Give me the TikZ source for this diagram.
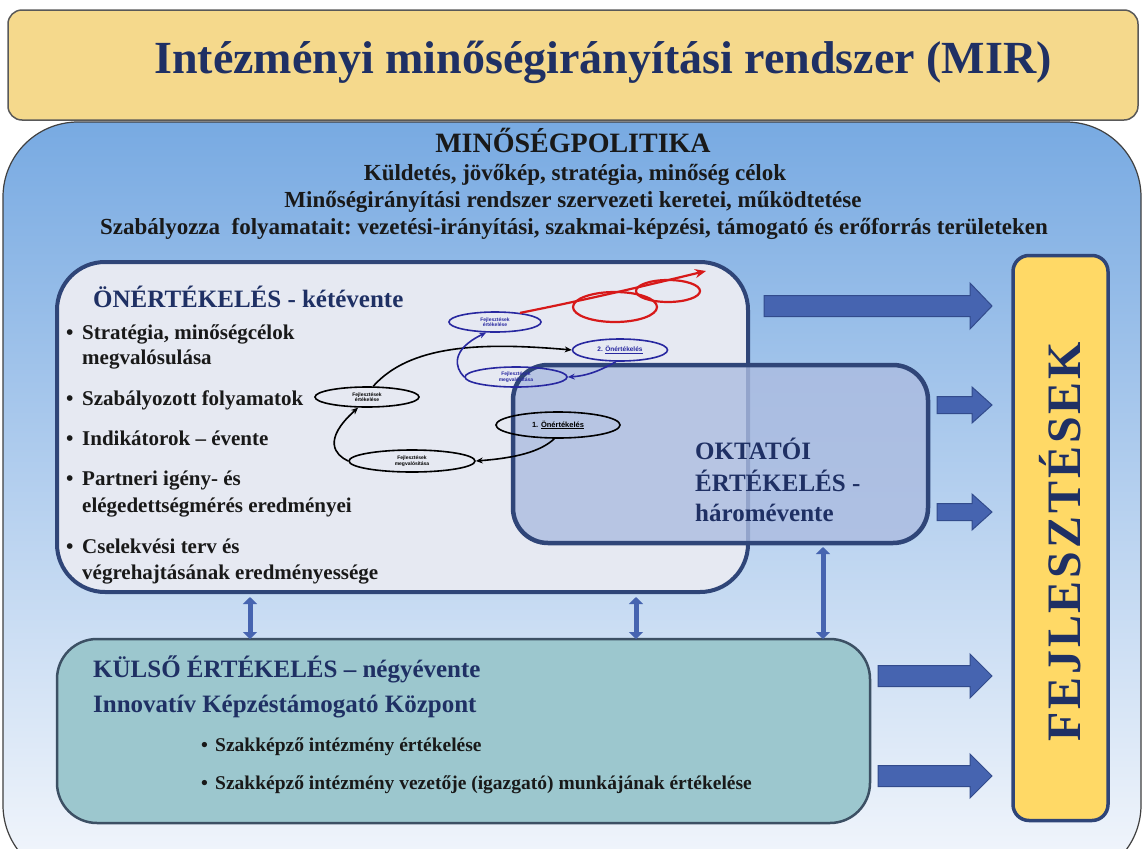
\documentclass[tikz,border=0pt]{standalone}
\usepackage{fontspec}
\setmainfont{Liberation Serif}
\newfontfamily\arialf{Liberation Sans}
\usetikzlibrary{shapes.geometric,arrows.meta}
\definecolor{navy}{RGB}{31,48,100}
\definecolor{boxline}{RGB}{47,69,120}
\definecolor{titlefill}{RGB}{245,217,140}
\definecolor{bgtop}{RGB}{120,170,226}
\definecolor{bgbot}{RGB}{244,247,252}
\definecolor{onfill}{RGB}{230,233,242}
\definecolor{oktfill}{RGB}{172,188,224}
\definecolor{kulfill}{RGB}{156,199,206}
\definecolor{kulline}{RGB}{60,80,100}
\definecolor{fejfill}{RGB}{255,217,102}
\definecolor{arrfill}{RGB}{70,100,176}
\definecolor{arrline}{RGB}{50,75,140}
\definecolor{ellblue}{RGB}{40,40,160}
\definecolor{redc}{RGB}{215,25,25}
\begin{document}
\begin{tikzpicture}[x=1pt,y=-1pt,
  titlebox/.style={draw=black!65, line width=1.5pt, fill=titlefill, rounded corners=14pt,
    minimum width=1130pt, minimum height=110pt, outer sep=0pt, inner sep=0pt},
  onbox/.style={draw=boxline, line width=4pt, fill=onfill, rounded corners=48pt,
    minimum width=691pt, minimum height=330pt, outer sep=0pt, inner sep=0pt},
  oktbox/.style={draw=boxline, line width=4.5pt, fill=oktfill, fill opacity=0.8, rounded corners=35pt,
    minimum width=415pt, minimum height=178pt, outer sep=0pt, inner sep=0pt},
  kulbox/.style={draw=kulline, line width=2.5pt, fill=kulfill, rounded corners=40pt,
    minimum width=813pt, minimum height=184pt, outer sep=0pt, inner sep=0pt},
  fejbox/.style={draw=boxline, line width=3.5pt, fill=fejfill, rounded corners=16pt,
    minimum width=95pt, minimum height=565pt, outer sep=0pt, inner sep=0pt},
  poltxt/.style={anchor=base, inner sep=0pt, font=\fontsize{23}{28}\selectfont\bfseries, text=black!90},
  headtxt/.style={anchor=base west, inner sep=0pt, font=\fontsize{25}{30}\selectfont\bfseries, text=navy},
  bultxt/.style={anchor=base west, inner sep=0pt, font=\fontsize{21}{25}\selectfont\bfseries, text=black!90},
  kbultxt/.style={anchor=base west, inner sep=0pt, font=\fontsize{19.5}{24}\selectfont\bfseries, text=black!90},
  ell/.style={ellipse, line width=1.6pt, inner sep=0pt, align=center,
    font=\arialf\bfseries\fontsize{5}{5.5}\selectfont},
  ellb/.style={ell, draw=ellblue, text=ellblue},
  ellk/.style={ell, draw=black, text=black},
  cyc/.style={line width=1.6pt, -{Stealth[length=7pt,width=6pt]}},
  blockarrow/.style={fill=arrfill, draw=arrline, line width=1pt},
  dbl/.style={draw=arrfill, line width=5pt, {Triangle[width=14pt,length=7pt]}-{Triangle[width=14pt,length=7pt]}}
]
\useasboundingbox (0,0) rectangle (1144,849);
% background
\begin{scope}
  \clip (0,0) rectangle (1144,849);
  \fill[white] (0,0) rectangle (1144,849);
  \draw[line width=1.2pt, draw=black!75, top color=bgtop, bottom color=bgbot, rounded corners=75pt]
    (3,122) rectangle (1141,880);
\end{scope}
% title
\node[titlebox] (title) at (573,65) {};
\node[anchor=base, inner sep=0pt, font=\fontsize{46}{50}\selectfont\bfseries, text=navy] (titletxt) at (603,73)
  {Intézményi minőségirányítási rendszer (MIR)};
% policy
\node[poltxt, font=\fontsize{28}{30}\selectfont\bfseries] (pol0) at (573,152) {MINŐSÉGPOLITIKA};
\node[poltxt] (pol1) at (575,180) {Küldetés, jövőkép, stratégia, minőség célok};
\node[poltxt] (pol2) at (573,207) {Minőségirányítási rendszer szervezeti keretei, működtetése};
\node[poltxt] (pol3) at (574,234) {Szabályozza\ \ folyamatait:\ vezetési-irányítási,\ szakmai-képzési,\ támogató és erőforrás területeken};
% boxes
\node[onbox] (onert) at (402.5,427) {};
\node[oktbox] (okt) at (720.5,454) {};
\node[kulbox] (kulso) at (463.5,731) {};
\node[fejbox] (fej) at (1060.5,538) {};
% self-assessment texts
\node[headtxt] (ontitle) at (93,307) {ÖNÉRTÉKELÉS - kétévente};
\node[bultxt] (b1) at (66,339) {\makebox[16pt][l]{\textbullet}Stratégia, minőségcélok};
\node[bultxt] (b1b) at (82,364) {megvalósulása};
\node[bultxt] (b2) at (66,405) {\makebox[16pt][l]{\textbullet}Szabályozott folyamatok};
\node[bultxt] (b3) at (66,445) {\makebox[16pt][l]{\textbullet}Indikátorok – évente};
\node[bultxt] (b4) at (66,485) {\makebox[16pt][l]{\textbullet}Partneri igény- és};
\node[bultxt] (b4b) at (82,512) {elégedettségmérés eredményei};
\node[bultxt] (b5) at (66,553) {\makebox[16pt][l]{\textbullet}Cselekvési terv és};
\node[bultxt] (b5b) at (82,579) {végrehajtásának eredményessége};
% teacher evaluation text
\node[headtxt] (okt1) at (695,459) {OKTATÓI};
\node[headtxt] (okt2) at (695,491) {ÉRTÉKELÉS -};
\node[headtxt] (okt3) at (695,521) {háromévente};
% external evaluation texts
\node[headtxt] (k1) at (93,677) {KÜLSŐ ÉRTÉKELÉS – négyévente};
\node[headtxt] (k2) at (93,712) {Innovatív Képzéstámogató Központ};
\node[kbultxt] (k3) at (201,751) {\makebox[14pt][l]{\textbullet}Szakképző intézmény értékelése};
\node[kbultxt] (k4) at (201,789) {\makebox[14pt][l]{\textbullet}Szakképző intézmény vezetője (igazgató) munkájának értékelése};
% development text
\node[rotate=90, inner sep=0pt, text=navy, font=\fontsize{48}{52}\selectfont\bfseries\addfontfeatures{LetterSpace=6}] (fejtxt) at (1060,542) {FEJLESZTÉSEK};
% cycle ellipses
\node[ellb, minimum width=92pt, minimum height=20pt] (e1) at (495,322) {Fejlesztések\\értékelése};
\node[ellb, minimum width=95pt, minimum height=22pt, font=\arialf\bfseries\fontsize{6.5}{7}\selectfont] (e2) at (620,350) {2. \underline{Önértékelés}};
\node[ellb, minimum width=102pt, minimum height=20pt] (e3) at (516,377) {Fejlesztések\\megvalósítása};
\node[ellk, minimum width=104pt, minimum height=20pt] (e4) at (367,397) {Fejlesztések\\értékelése};
\node[ellk, minimum width=124pt, minimum height=26pt, font=\arialf\bfseries\fontsize{7.5}{8}\selectfont] (e5) at (558,425) {1. \underline{Önértékelés}};
\node[ellk, minimum width=126pt, minimum height=22pt] (e6) at (412,461) {Fejlesztések\\megvalósítása};
% cycle arrows
\draw[cyc, black] (e5.255) .. controls (540,452) and (515,458) .. (e6.east);
\draw[cyc, black] (e6.west) .. controls (335,455) and (322,440) .. (e4.230);
\draw[cyc, black] (e4.60) .. controls (410,345) and (480,342) .. (e2.west);
\draw[cyc, ellblue] (e2.250) .. controls (598,372) and (585,376) .. (e3.east);
\draw[cyc, ellblue] (e3.west) .. controls (455,368) and (450,350) .. (e1.230);
% red spiral
\draw[redc, line width=2.2pt, -{Stealth[length=11pt,width=9pt]}] (e1.20) .. controls (600,297) and (660,282) .. (706,271);
\draw[redc, line width=2.2pt] (615,307) ellipse [x radius=42pt, y radius=15pt];
\draw[redc, line width=2.2pt] (668,291) ellipse [x radius=32pt, y radius=11pt];
% block arrows to development
\foreach \xs/\xh/\yc/\s/\h in {764/970/306/10.5/23, 937/972/405/8.5/18, 937/972/512/8.5/18, 878/970/676/10.5/22, 878/970/776/10.5/22}
  \draw[blockarrow] (\xs,\yc-\s) -- (\xh,\yc-\s) -- (\xh,\yc-\h) -- (992,\yc) -- (\xh,\yc+\h) -- (\xh,\yc+\s) -- (\xs,\yc+\s) -- cycle;
% vertical double arrows
\coordinate (c1) at (250,0);
\coordinate (c2) at (636,0);
\coordinate (c3) at (823,0);
\draw[dbl] ([yshift=-5pt]onert.south -| c1) -- (kulso.north -| c1);
\draw[dbl] ([yshift=-5pt]onert.south -| c2) -- (kulso.north -| c2);
\draw[dbl] ([yshift=-4pt]okt.south -| c3) -- (kulso.north -| c3);
\end{tikzpicture}
\end{document}
